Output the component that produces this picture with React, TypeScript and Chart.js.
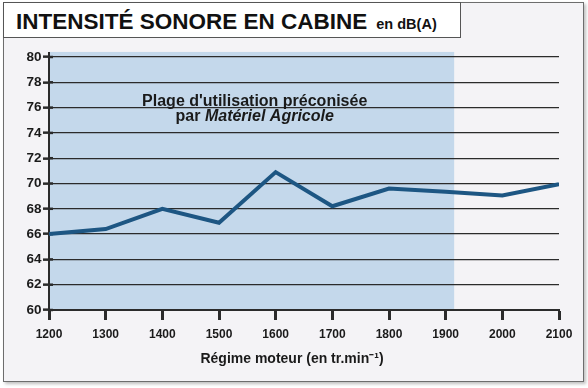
import React, { useEffect, useRef } from "react";
import { Chart, registerables } from "chart.js";

Chart.register(...registerables);

// ---- data ----
const rpm = [1200, 1300, 1400, 1500, 1600, 1700, 1800, 1900, 2000, 2100];
const dbA = [66.0, 66.4, 68.0, 66.9, 70.9, 68.2, 69.6, 69.35, 69.05, 69.95];
const yMin = 60;
const yMax = 80;
const yStep = 2;
const xMin = 1200;
const xMax = 2100;
const xStep = 100;
// recommended range (shaded)
const rangeStart = 1200;
const rangeEnd = 1915;
const rangeTop = 80.4;
// texts
const titleMain = "INTENSITÉ SONORE EN CABINE";
const titleUnit = "en dB(A)";
const xAxisTitle = "Régime moteur (en tr.min⁻¹)";
const noteLine1 = "Plage d'utilisation préconisée";
const noteLine2a = "par ";
const noteLine2b = "Matériel Agricole";
const noteX = 1563;
const noteY1 = 76.5;
const noteY2 = 75.27;

const FONT = '"Liberation Sans", Arial, Helvetica, sans-serif';
const LINE_COLOR = "#1d5683";
const SHADE_COLOR = "#c4d8eb";
const GRID_COLOR = "#2b2b2b";
const TEXT_COLOR = "#1a1a1a";

const decorPlugin = {
  id: "decor",
  beforeDraw(chart: any) {
    const { ctx, scales } = chart;
    const xs = scales.x;
    const ys = scales.y;
    ctx.save();
    ctx.fillStyle = SHADE_COLOR;
    const x0 = xs.getPixelForValue(rangeStart);
    const x1 = xs.getPixelForValue(rangeEnd);
    const y0 = ys.getPixelForValue(rangeTop);
    const y1 = ys.getPixelForValue(yMin);
    ctx.fillRect(x0, y0, x1 - x0, y1 - y0);
    ctx.restore();
  },
  beforeDatasetsDraw(chart: any) {
    const { ctx, scales } = chart;
    const xs = scales.x;
    const ys = scales.y;
    ctx.save();
    // y-axis line extended
    ctx.strokeStyle = GRID_COLOR;
    ctx.lineWidth = 2;
    ctx.beginPath();
    const ax = xs.getPixelForValue(xMin);
    ctx.moveTo(ax, ys.getPixelForValue(rangeTop));
    ctx.lineTo(ax, ys.getPixelForValue(yMin) + 10);
    ctx.stroke();
    // tick stubs crossing the y axis
    ctx.lineWidth = 2.5;
    for (let v = yMin; v <= yMax; v += yStep) {
      const py = ys.getPixelForValue(v);
      ctx.beginPath();
      ctx.moveTo(ax, py);
      ctx.lineTo(ax + 4, py);
      ctx.stroke();
    }
    // annotation
    ctx.fillStyle = TEXT_COLOR;
    ctx.textBaseline = "middle";
    ctx.textAlign = "center";
    ctx.font = `bold 16px ${FONT}`;
    const cx = xs.getPixelForValue(noteX);
    ctx.fillText(noteLine1, cx, ys.getPixelForValue(noteY1));
    ctx.textAlign = "left";
    const fA = `bold 16px ${FONT}`;
    const fB = `italic bold 16px ${FONT}`;
    ctx.font = fA;
    const wA = ctx.measureText(noteLine2a).width;
    ctx.font = fB;
    const wB = ctx.measureText(noteLine2b).width;
    const sx = cx - (wA + wB) / 2;
    const y2 = ys.getPixelForValue(noteY2);
    ctx.font = fA;
    ctx.fillText(noteLine2a, sx, y2);
    ctx.font = fB;
    ctx.fillText(noteLine2b, sx + wA, y2);
    // x-axis title
    ctx.font = `bold 14px ${FONT}`;
    ctx.textAlign = "center";
    ctx.textBaseline = "alphabetic";
    ctx.fillText(xAxisTitle, chart.width / 2 - 2, xs.bottom - 2);
    ctx.restore();
  },
};

export default function App() {
  const canvasRef = useRef<HTMLCanvasElement | null>(null);

  useEffect(() => {
    const prevMargin = document.body.style.margin;
    document.body.style.margin = "0";
    const canvas = canvasRef.current;
    if (!canvas) return;
    const chart = new Chart(canvas, {
      type: "line",
      data: {
        datasets: [
          {
            data: rpm.map((r, i) => ({ x: r, y: dbA[i] })),
            borderColor: LINE_COLOR,
            borderWidth: 4,
            pointRadius: 0,
            tension: 0,
            fill: false,
          },
        ],
      },
      options: {
        responsive: false,
        animation: false,
        devicePixelRatio: 1,
        layout: { padding: { top: 57, right: 29, bottom: 23, left: 0 } },
        plugins: {
          legend: { display: false },
          tooltip: { enabled: false },
          title: { display: false },
        },
        scales: {
          x: {
            type: "linear",
            min: xMin,
            max: xMax,
            afterFit: (s: any) => {
              s.height = 55;
            },
            ticks: {
              stepSize: xStep,
              color: TEXT_COLOR,
              font: { family: FONT, size: 12, weight: "bold" },
              padding: 7,
              maxRotation: 0,
              callback: (v: any) => String(v),
            },
            grid: {
              drawOnChartArea: false,
              drawTicks: true,
              tickLength: 10,
              tickWidth: 3,
              tickColor: GRID_COLOR,
            },
            border: { display: true, color: GRID_COLOR, width: 2 },
            title: { display: false },
          },
          y: {
            min: yMin,
            max: yMax,
            afterFit: (s: any) => {
              s.width = 49;
            },
            ticks: {
              stepSize: yStep,
              color: TEXT_COLOR,
              font: { family: FONT, size: 13.5, weight: "bold" },
              padding: 1.5,
            },
            grid: {
              color: GRID_COLOR,
              lineWidth: 1.3,
              drawTicks: true,
              tickLength: 6,
              tickWidth: 2.5,
              tickColor: GRID_COLOR,
            },
            border: { display: true, color: GRID_COLOR, width: 2 },
          },
        },
      },
      plugins: [decorPlugin],
    });
    return () => {
      chart.destroy();
      document.body.style.margin = prevMargin;
    };
  }, []);

  return (
    <div
      style={{
        position: "fixed",
        left: 0,
        top: 0,
        width: 588,
        height: 388,
        background: "#ffffff",
        fontFamily: FONT,
        overflow: "hidden",
      }}
    >
      <div
        style={{
          position: "absolute",
          left: 3,
          top: 2,
          width: 581,
          height: 380,
          background: "#f4f3f6",
          border: "1.5px solid #6d6d6d",
          boxSizing: "border-box",
          boxShadow: "2px 2px 3px rgba(0,0,0,0.25)",
        }}
      />
      <canvas
        ref={canvasRef}
        width={588}
        height={388}
        style={{ position: "absolute", left: 0, top: 0, width: 588, height: 388 }}
      />
      <div
        style={{
          position: "absolute",
          left: 3,
          top: 2,
          width: 458,
          height: 36,
          background: "#ffffff",
          border: "1.5px solid #555555",
          boxSizing: "border-box",
          paddingLeft: 12,
          paddingTop: 3,
          lineHeight: "31px",
          whiteSpace: "nowrap",
          color: "#111111",
          fontWeight: "bold",
          overflow: "hidden",
        }}
      >
        <span style={{ fontSize: 22.5 }}>{titleMain}</span>
        <span style={{ fontSize: 14.5, marginLeft: 9 }}>{titleUnit}</span>
      </div>
    </div>
  );
}
